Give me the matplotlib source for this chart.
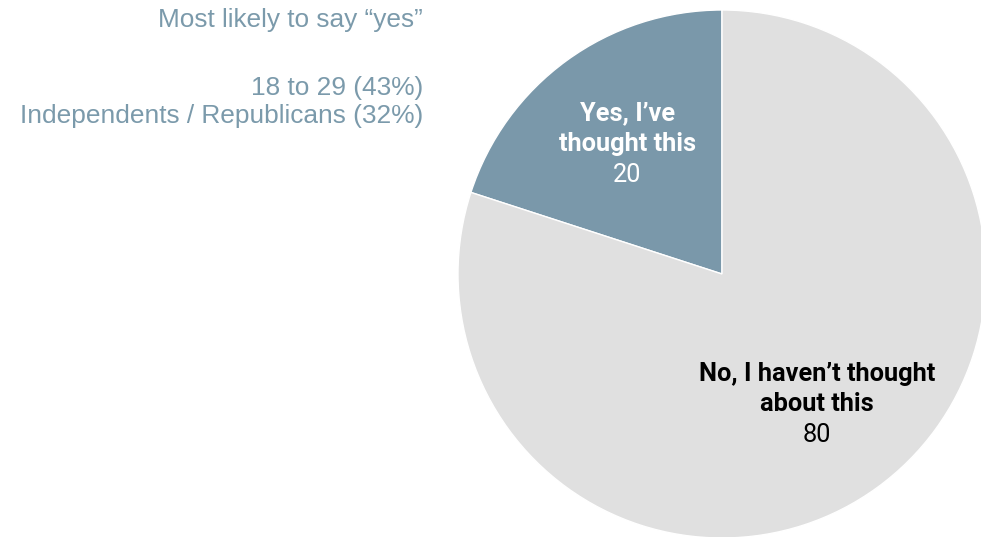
import matplotlib
matplotlib.use("Agg")
import matplotlib.pyplot as plt
import numpy as np

categories = ["Yes, I\u2019ve\nthought this", "No, I haven\u2019t thought\nabout this"]
values = [20, 80]
colors = ["#7a98aa", "#e0e0e0"]
text_colors = ["white", "black"]
side_title = "Most likely to say \u201cyes\u201d"
side_lines = ["18 to 29 (43%)", "Independents / Republicans (32%)"]

W, H = 981, 537
fig = plt.figure(figsize=(W / 100, H / 100), dpi=100)
ax = fig.add_axes([0, 0, 1, 1])

cx, cy, R = 722, H - 274, 264
wedges, _ = ax.pie(values, colors=colors, startangle=90, counterclock=True,
                   center=(cx, cy), radius=R, frame=False,
                   wedgeprops=dict(edgecolor="white", linewidth=1))
ax.set_xlim(0, W)
ax.set_ylim(0, H)
ax.set_aspect("auto")
ax.axis("off")

for w, lab, v, tc in zip(wedges, categories, values, text_colors):
    mid = np.deg2rad((w.theta1 + w.theta2) / 2)
    x = cx + 0.61 * R * np.cos(mid)
    y = cy + 0.61 * R * np.sin(mid)
    lines = lab.split("\n")
    offs = [30, 0]
    for ln, o in zip(lines, offs):
        ax.annotate(ln, (x, y), xytext=(0, o), textcoords="offset pixels",
                    ha="center", va="center", fontsize=18.3, fontweight="bold",
                    family="Roboto", color=tc)
    ax.annotate(str(v), (x, y), xytext=(0, -31), textcoords="offset pixels",
                ha="center", va="center", fontsize=18.3, family="Roboto", color=tc)

side_color = "#7b9aab"
ax.text(423, H - 20, side_title, ha="right", va="center",
        fontsize=18.9, family="Liberation Sans", color=side_color)
for ln, yy in zip(side_lines, [88, 116]):
    ax.text(423, H - yy, ln, ha="right", va="center",
            fontsize=18.9, family="Liberation Sans", color=side_color)

fig.savefig("out.png", dpi=100)
